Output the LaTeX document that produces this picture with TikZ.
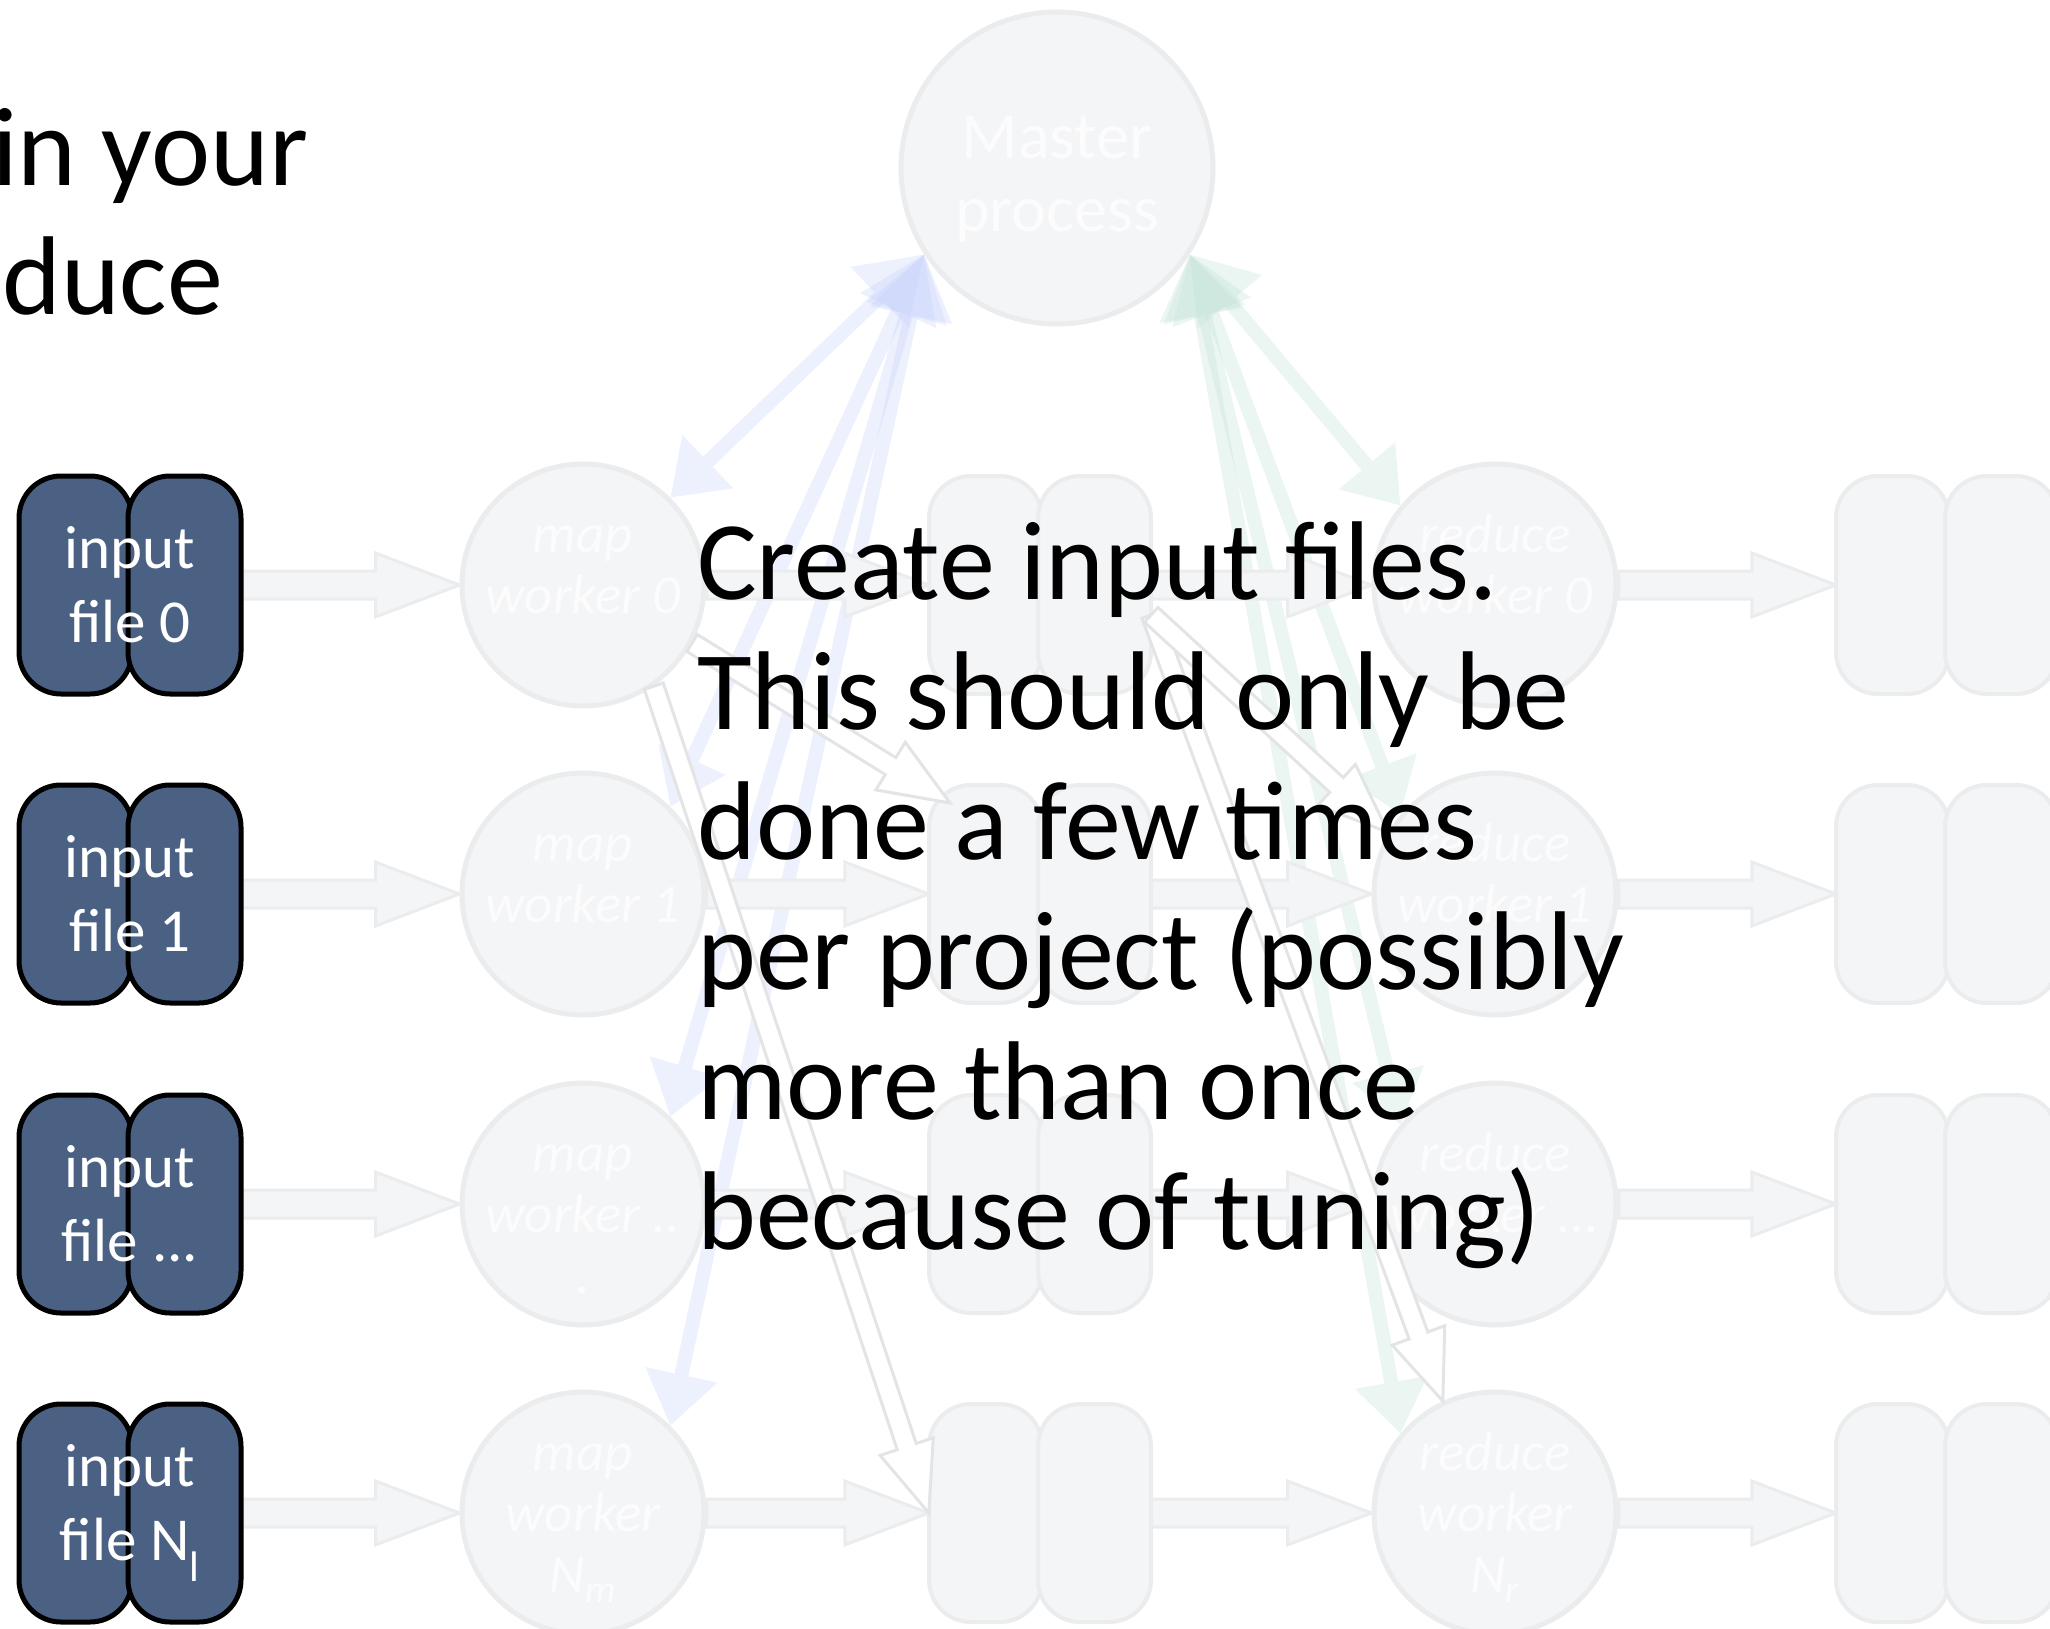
\documentclass[tikz,border=0pt]{standalone}
\usepackage{fontspec}
\setmainfont{Carlito}
\usetikzlibrary{calc,arrows.meta}
\pgfdeclarelayer{bg}
\pgfsetlayers{bg,main}
\definecolor{fadefill}{HTML}{F4F5F7}
\definecolor{fadeline}{HTML}{EBECEE}
\definecolor{infill}{HTML}{4B6184}
\definecolor{sketchblue}{HTML}{C6D0FA}
\definecolor{sketchgreen}{HTML}{C2E2D6}
\definecolor{hollowline}{HTML}{E3E4E6}
\definecolor{ghosttext}{HTML}{FCFCFD}

\newcommand\mkfilebox[6]{%
  \path[#4] (#2-111,#3-109) rectangle (#2+2,#3+109);
  \path[#4] (#2-2,#3-109) rectangle (#2+111,#3+109);
  \node[boxnode,#5] (#1) at (#2,#3) {#6};
}
\newcommand\mkarrow[6]{% style, from, to, half shaft, half head, head length
  \coordinate (bah) at ($(#3)!#6!(#2)$);
  \path[#1] ($(#2)!#4!90:(#3)$) -- ($(bah)!#4!-90:(#2)$) -- ($(bah)!#5!-90:(#2)$)
    -- (#3) -- ($(bah)!#5!90:(#2)$) -- ($(bah)!#4!90:(#2)$) -- ($(#2)!#4!-90:(#3)$) -- cycle;
}

\tikzset{
  incap/.style={fill=infill, draw=black, line width=5pt, rounded corners=42pt},
  fadecap/.style={fill=fadefill, draw=fadeline, line width=4pt, rounded corners=42pt},
  boxnode/.style={minimum width=222pt, minimum height=218pt, inner sep=0pt, align=center},
  inlabel/.style={text=white, font=\fontsize{61}{74}\selectfont},
  worker/.style={circle, minimum size=242pt, inner sep=0pt, fill=fadefill, draw=fadeline, line width=5pt},
  wlabel/.style={anchor=base, inner sep=0pt, text=ghosttext, font=\itshape\fontsize{55}{61}\selectfont},
  blockarr/.style={fill=fadefill, draw=fadeline, line width=3pt},
  hollowarr/.style={fill=white, draw=hollowline, line width=3pt},
  sketchb/.style={draw=sketchblue, fill=sketchblue, line width=14pt,
    arrows={Triangle[length=62pt,width=80pt]-Triangle[length=52pt,width=70pt]}},
  sketchg/.style={draw=sketchgreen, fill=sketchgreen, line width=14pt,
    arrows={Triangle[length=62pt,width=80pt]-Triangle[length=52pt,width=70pt]}},
  faint/.style={transparency group, opacity=.32},
  note/.style={anchor=base west, inner sep=0pt, font=\fontsize{112}{130}\selectfont},
}

\begin{document}
\begin{tikzpicture}[x=1pt,y=-1pt]
\useasboundingbox (0,0) rectangle (2050,1629);
\clip (0,0) rectangle (2050,1629);

% title fragment
\node[note] (title1) at (-8,186) {in your};
\node[note] (title2) at (2,314) {duce};

% master
\node[worker, minimum size=312pt] (master) at (1057,168) {};
\node[wlabel, font=\fontsize{66}{73}\selectfont] (mastert) at (1057,159)
  {\begin{tabular}[t]{@{}c@{}}Master\\process\end{tabular}};

% input files
\mkfilebox{in0}{130}{585}{incap}{inlabel}{input\\file 0}
\mkfilebox{in1}{130}{894}{incap}{inlabel}{input\\file 1}
\mkfilebox{in2}{130}{1204}{incap}{inlabel}{input\\file ...}
\mkfilebox{in3}{130}{1513}{incap}{inlabel}{input\\file N\textsubscript{l}}

% intermediate files
\mkfilebox{int0}{1040}{585}{fadecap}{}{}
\mkfilebox{int1}{1040}{894}{fadecap}{}{}
\mkfilebox{int2}{1040}{1204}{fadecap}{}{}
\mkfilebox{int3}{1040}{1513}{fadecap}{}{}

% output files
\mkfilebox{out0}{1947}{585}{fadecap}{}{}
\mkfilebox{out1}{1947}{894}{fadecap}{}{}
\mkfilebox{out2}{1947}{1204}{fadecap}{}{}
\mkfilebox{out3}{1947}{1513}{fadecap}{}{}

% map workers
\node[worker] (map0) at (583,585) {};
\node[worker] (map1) at (583,894) {};
\node[worker] (map2) at (583,1204) {};
\node[worker] (map3) at (583,1513) {};
\node[wlabel] (map0t) at (583,552) {\begin{tabular}[t]{@{}c@{}}map\\worker 0\end{tabular}};
\node[wlabel] (map1t) at (583,861) {\begin{tabular}[t]{@{}c@{}}map\\worker 1\end{tabular}};
\node[wlabel] (map2t) at (583,1171) {\begin{tabular}[t]{@{}c@{}}map\\worker ..\\.\end{tabular}};
\node[wlabel] (map3t) at (583,1470) {\begin{tabular}[t]{@{}c@{}}map\\worker\\N\textsubscript{m}\end{tabular}};

% reduce workers
\node[worker] (red0) at (1495,585) {};
\node[worker] (red1) at (1495,894) {};
\node[worker] (red2) at (1495,1204) {};
\node[worker] (red3) at (1495,1513) {};
\node[wlabel] (red0t) at (1495,552) {\begin{tabular}[t]{@{}c@{}}reduce\\worker 0\end{tabular}};
\node[wlabel] (red1t) at (1495,861) {\begin{tabular}[t]{@{}c@{}}reduce\\worker 1\end{tabular}};
\node[wlabel] (red2t) at (1495,1171) {\begin{tabular}[t]{@{}c@{}}reduce\\worker ...\end{tabular}};
\node[wlabel] (red3t) at (1495,1470) {\begin{tabular}[t]{@{}c@{}}reduce\\worker\\N\textsubscript{r}\end{tabular}};

\begin{pgfonlayer}{bg}
  \foreach \i in {0,...,3} {
    \begin{scope}[faint]
      \draw[sketchb] (master.213) -- (map\i.45);
    \end{scope}
    \begin{scope}[faint]
      \draw[sketchg] (master.327) -- (red\i.140);
    \end{scope}
  }
  \foreach \i in {0,...,3} {
    \mkarrow{blockarr}{in\i.east}{map\i.west}{14pt}{32pt}{84pt}
    \mkarrow{blockarr}{map\i.east}{int\i.west}{14pt}{32pt}{84pt}
    \mkarrow{blockarr}{int\i.east}{red\i.west}{14pt}{32pt}{84pt}
    \mkarrow{blockarr}{red\i.east}{out\i.west}{14pt}{32pt}{84pt}
  }
\end{pgfonlayer}

% shuffle arrows
\coordinate (h2tip) at (950,803);
\mkarrow{hollowarr}{map0.-55}{int3.west}{10pt}{28pt}{70pt}
\mkarrow{hollowarr}{map0.-28}{h2tip}{10pt}{28pt}{70pt}
\mkarrow{hollowarr}{int0.-15}{red3.115}{10pt}{28pt}{70pt}
\mkarrow{hollowarr}{int0.-15}{red1.150}{10pt}{28pt}{70pt}

% overlay text
\node[note] (note) at (697,599) {\begin{tabular}[t]{@{}l@{}}Create input files.\\This should only be\\done a few times\\per project (possibly\\more than once\\because of tuning)\end{tabular}};
\end{tikzpicture}
\end{document}
